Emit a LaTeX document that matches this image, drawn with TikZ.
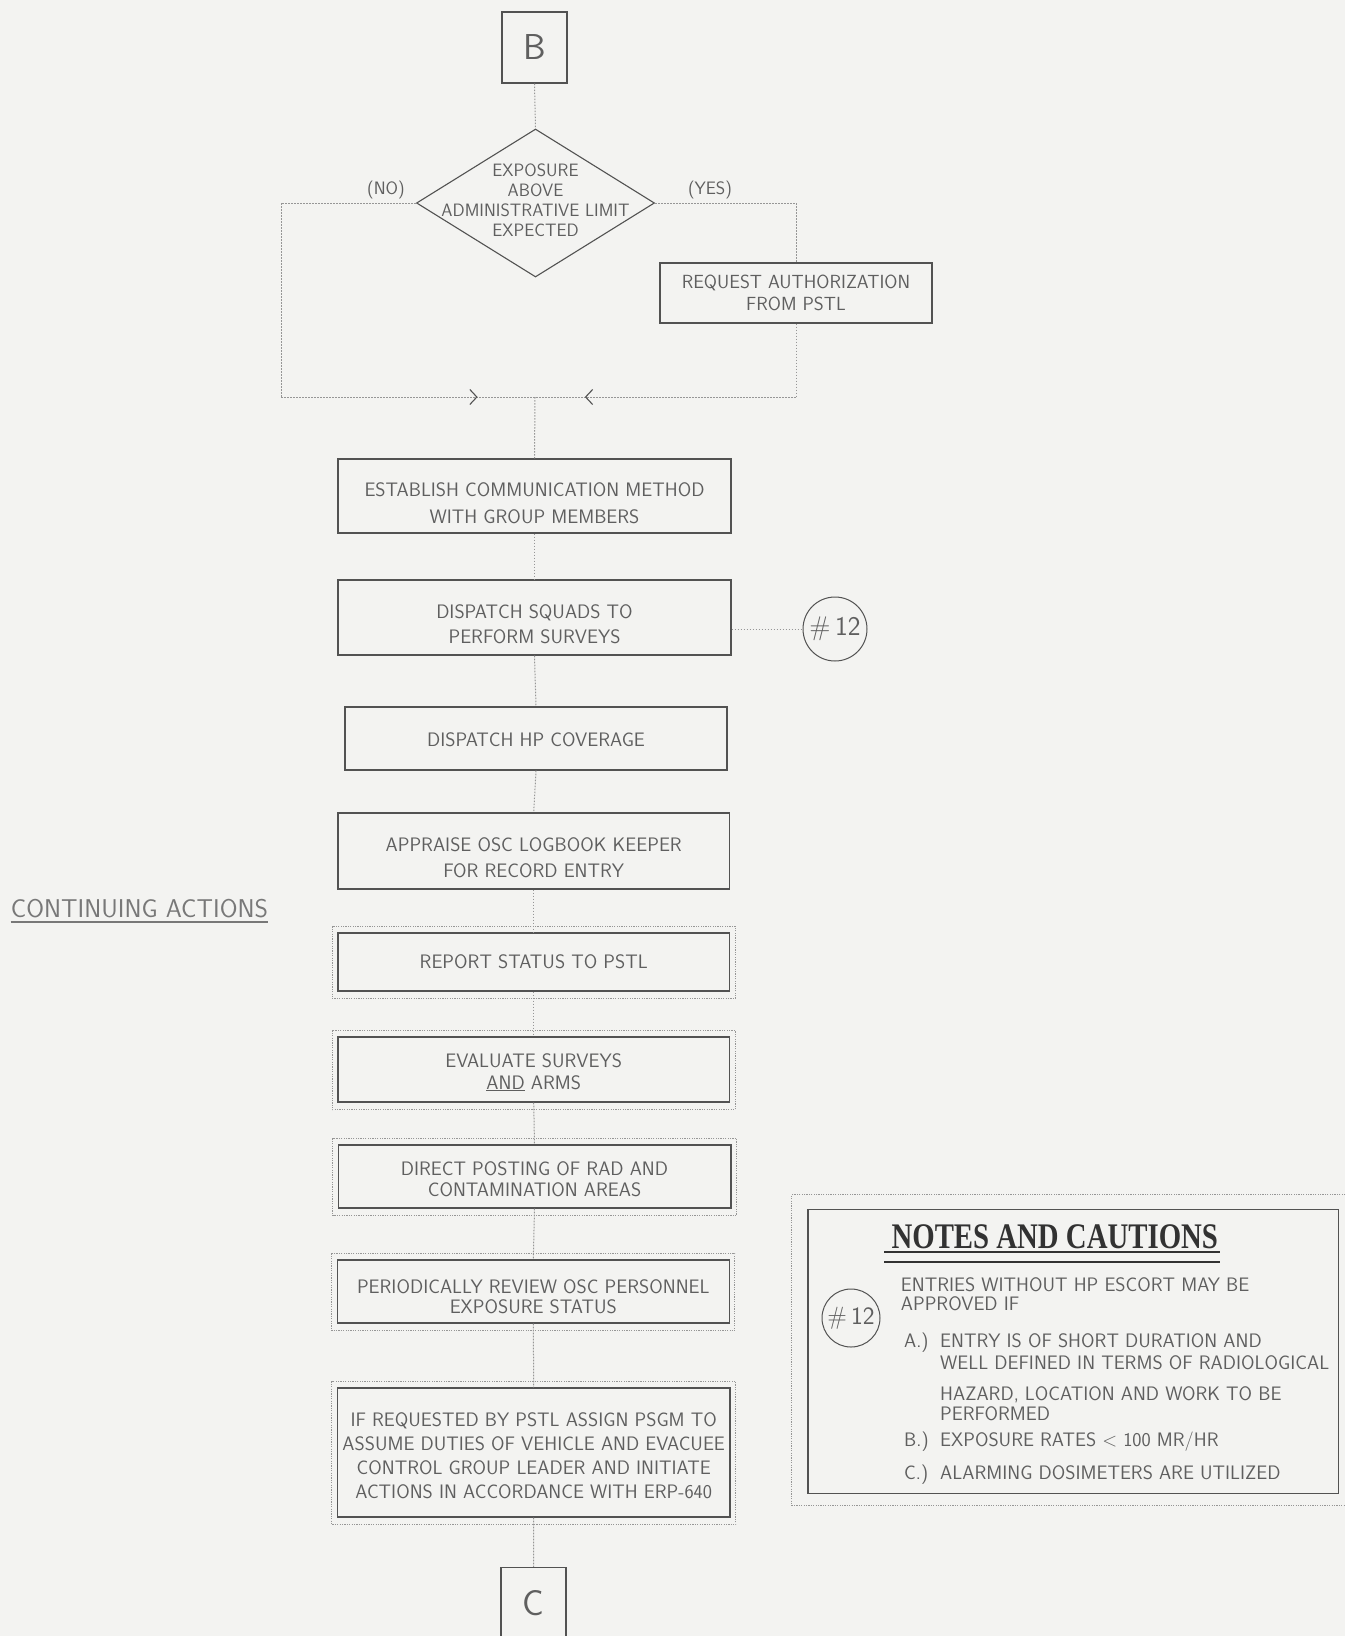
\documentclass[tikz,border=0pt]{standalone}
\usepackage{fontspec}
\usepackage{graphicx}
\usetikzlibrary{shapes.geometric,arrows.meta,decorations.markings}
\newfontfamily\notesserif{Liberation Serif}
\definecolor{paperc}{RGB}{243,243,241}
\definecolor{inkc}{RGB}{95,95,95}
\definecolor{softink}{RGB}{120,120,120}
\definecolor{boxline}{RGB}{82,82,82}
\definecolor{wirec}{RGB}{150,150,150}
\definecolor{titlec}{RGB}{50,50,50}
\newcommand{\stepfont}[1]{\sffamily\fontsize{19.5}{#1}\selectfont}
\tikzset{
  stepbox/.style={draw=boxline, line width=1.3pt, inner sep=0pt},
  steptext/.style={inner sep=0pt, align=center, text=inkc},
  letterbox/.style={draw=boxline, line width=1.2pt, minimum width=65pt, minimum height=71pt,
    inner sep=0pt, text=inkc, font=\sffamily\fontsize{36}{36}\selectfont},
  wire/.style={draw=wirec, line width=1pt, dash pattern=on 1.6pt off 1.4pt},
  outerframe/.style={draw=wirec, line width=1pt, dash pattern=on 1.2pt off 1.2pt},
  branchtag/.style={inner sep=0pt, text=inkc, font=\sffamily\fontsize{18}{20}\selectfont},
  noteline/.style={anchor=base west, inner sep=0pt, text=inkc, font=\sffamily\fontsize{19.5}{22}\selectfont},
  refcircle/.style={circle, draw=boxline, line width=1pt, inner sep=0pt, text=inkc},
  chevron/.style={postaction={decorate}, decoration={markings,
    mark=at position #1 with {\arrow[boxline, line width=1.1pt]{Straight Barb[length=7pt,width=15pt]}}}}
}
\begin{document}
\begin{tikzpicture}[x=1pt,y=-1pt]
\useasboundingbox (0,0) rectangle (1345,1636);
\fill[paperc] (0,0) rectangle (1345,1636);

% entry connector and decision
\node[letterbox] (B) at (534.5,47.5) {B};
\node[diamond, draw=boxline, line width=1.1pt, minimum width=238pt, minimum height=148pt, inner sep=0pt] (dia) at (535.5,203) {};
\node[steptext, font=\sffamily\fontsize{17.9}{20}\selectfont] (diatext) at ([shift={(0,-3)}]dia.center) {EXPOSURE\\ABOVE\\ADMINISTRATIVE LIMIT\\EXPECTED};
\node[branchtag] (no) at (386,190) {(NO)};
\node[branchtag] (yes) at (710,190) {(YES)};
\node[stepbox, minimum width=272pt, minimum height=60pt] (req) at (796,293) {};
\node[steptext, font={\sffamily\fontsize{19}{22.3}\selectfont}] (reqtext) at (req.center) {REQUEST AUTHORIZATION\\FROM PSTL};

% step boxes
\node[stepbox, minimum width=393pt, minimum height=74pt] (b1) at (534.5,496) {};
\node[steptext, font={\stepfont{26.7}}] (t1) at ([shift={(0,7)}]b1.center) {ESTABLISH COMMUNICATION METHOD\\WITH GROUP MEMBERS};
\node[stepbox, minimum width=393pt, minimum height=75pt] (b2) at (534.5,617.5) {};
\node[steptext, font={\stepfont{25}}] (t2) at ([shift={(0,6.5)}]b2.center) {DISPATCH SQUADS TO\\PERFORM SURVEYS};
\node[stepbox, minimum width=382pt, minimum height=63pt] (b3) at (536,738.5) {};
\node[steptext, font={\stepfont{25}}] (t3) at ([shift={(0,1.5)}]b3.center) {DISPATCH HP COVERAGE};
\node[stepbox, minimum width=391.5pt, minimum height=76pt] (b4) at (533.7,851) {};
\node[steptext, font={\stepfont{25.7}}] (t4) at ([shift={(0,7)}]b4.center) {APPRAISE OSC LOGBOOK KEEPER\\FOR RECORD ENTRY};
\node[stepbox, minimum width=391.5pt, minimum height=58pt] (b5) at (533.7,962) {};
\node[steptext, font={\stepfont{25}}] (t5) at (b5.center) {REPORT STATUS TO PSTL};
\node[stepbox, minimum width=391.5pt, minimum height=65pt] (b6) at (533.7,1069.5) {};
\node[steptext, font={\stepfont{21.6}}] (t6) at ([shift={(0,3)}]b6.center) {EVALUATE SURVEYS\\\underline{AND} ARMS};
\node[stepbox, minimum width=392.7pt, minimum height=63pt] (b7) at (534.5,1176.5) {};
\node[steptext, font={\stepfont{20.7}}] (t7) at ([shift={(0,3)}]b7.center) {DIRECT POSTING OF RAD AND\\CONTAMINATION AREAS};
\node[stepbox, minimum width=392pt, minimum height=63pt] (b8) at (533.3,1291.5) {};
\node[steptext, font={\stepfont{20.5}}] (t8) at ([shift={(0,5)}]b8.center) {PERIODICALLY REVIEW OSC PERSONNEL\\EXPOSURE STATUS};
\node[stepbox, minimum width=392.7pt, minimum height=129pt] (b9) at (533.7,1452.5) {};
\node[steptext, font={\stepfont{24}}] (t9) at ([shift={(0,3)}]b9.center) {IF REQUESTED BY PSTL ASSIGN PSGM TO\\ASSUME DUTIES OF VEHICLE AND EVACUEE\\CONTROL GROUP LEADER AND INITIATE\\ACTIONS IN ACCORDANCE WITH ERP-640};
\node[letterbox] (C) at (533.5,1603) {C};

% dotted outer frames of the continuing-action boxes
\foreach \bx in {b5,b6,b7,b8,b9}
  \draw[outerframe] ([shift={(-5,-6)}]\bx.north west) rectangle ([shift={(5,7)}]\bx.south east);

% reference bubble beside the survey step
\node[refcircle, minimum size=64pt, font=\sffamily\fontsize{27}{27}\selectfont] (c12) at (835,629) {\#\,12};

% branch routing
\coordinate (lc) at (281,397);
\coordinate (junc) at (535,397);
\coordinate (rc) at (req.south |- junc);
\draw[wire] (B.south) -- (dia.north);
\draw[wire] (dia.west) -| (lc);
\draw[wire, chevron=0.774] (lc) -- (junc);
\draw[wire] (dia.east) -| (req.north);
\draw[wire] (req.south) -- (rc);
\draw[wire, chevron=0.809] (rc) -- (junc);
\draw[wire] (junc) -- (b1.north);

% main chain
\draw[wire] (b1.south) -- (b2.north);
\draw[wire] (b2.south) -- (b3.north);
\draw[wire] (b3.south) -- (b4.north);
\draw[wire] (b4.south) -- (b5.north);
\draw[wire] (b5.south) -- (b6.north);
\draw[wire] (b6.south) -- (b7.north);
\draw[wire] (b7.south) -- (b8.north);
\draw[wire] (b8.south) -- (b9.north);
\draw[wire] (b9.south) -- (C.north);
\draw[wire] (b2.east |- c12.west) -- (c12.west);

% section heading
\node[anchor=base west, inner sep=0pt, text=softink, font=\sffamily\fontsize{25.7}{26}\selectfont] (cont) at (10.7,917) {CONTINUING ACTIONS};
\draw[softink, line width=1.1pt] ([shift={(0,5)}]cont.base west) -- ([shift={(0,5)}]cont.base east);

% notes and cautions panel
\node[draw=boxline, line width=1.3pt, minimum width=530.6pt, minimum height=284pt, inner sep=0pt] (notes) at (1073.3,1351.3) {};
\draw[outerframe] ([shift={(6,-14)}]notes.north east) -- ([shift={(-15.4,-14)}]notes.north west)
  -- ([shift={(-15.4,11.7)}]notes.south west) -- ([shift={(6,11.7)}]notes.south east);
\node[anchor=base, inner sep=0pt, text=titlec] (title) at (1054.8,1248)
  {\scalebox{0.8}[1]{\notesserif\bfseries\fontsize{36}{36}\selectfont NOTES AND CAUTIONS}};
\draw[titlec, line width=1.3pt] ([shift={(-7,4)}]title.base west) -- ([shift={(2,4)}]title.base east);
\draw[titlec, line width=1.3pt] ([shift={(-7,14)}]title.base west) -- ([shift={(2,14)}]title.base east);
\node[refcircle, minimum size=58pt, font=\sffamily\fontsize{25}{25}\selectfont] (cn) at (851,1318) {\#\,12};
\node[noteline] (n1) at (900.7,1291) {ENTRIES WITHOUT HP ESCORT MAY BE};
\node[noteline] (n2) at (900.7,1310.5) {APPROVED IF};
\node[noteline] (la) at (904,1347) {A.)};
\node[noteline] (na1) at (940,1347) {ENTRY IS OF SHORT DURATION AND};
\node[noteline] (na2) at (940,1369) {WELL DEFINED IN TERMS OF RADIOLOGICAL};
\node[noteline] (na3) at (940,1400) {HAZARD, LOCATION AND WORK TO BE};
\node[noteline] (na4) at (940,1420) {PERFORMED};
\node[noteline] (lb) at (904,1446) {B.)};
\node[noteline] (nb) at (940,1446) {EXPOSURE RATES < 100 MR/HR};
\node[noteline] (lcx) at (904,1479) {C.)};
\node[noteline] (nc) at (940,1479) {ALARMING DOSIMETERS ARE UTILIZED};
\end{tikzpicture}
\end{document}
